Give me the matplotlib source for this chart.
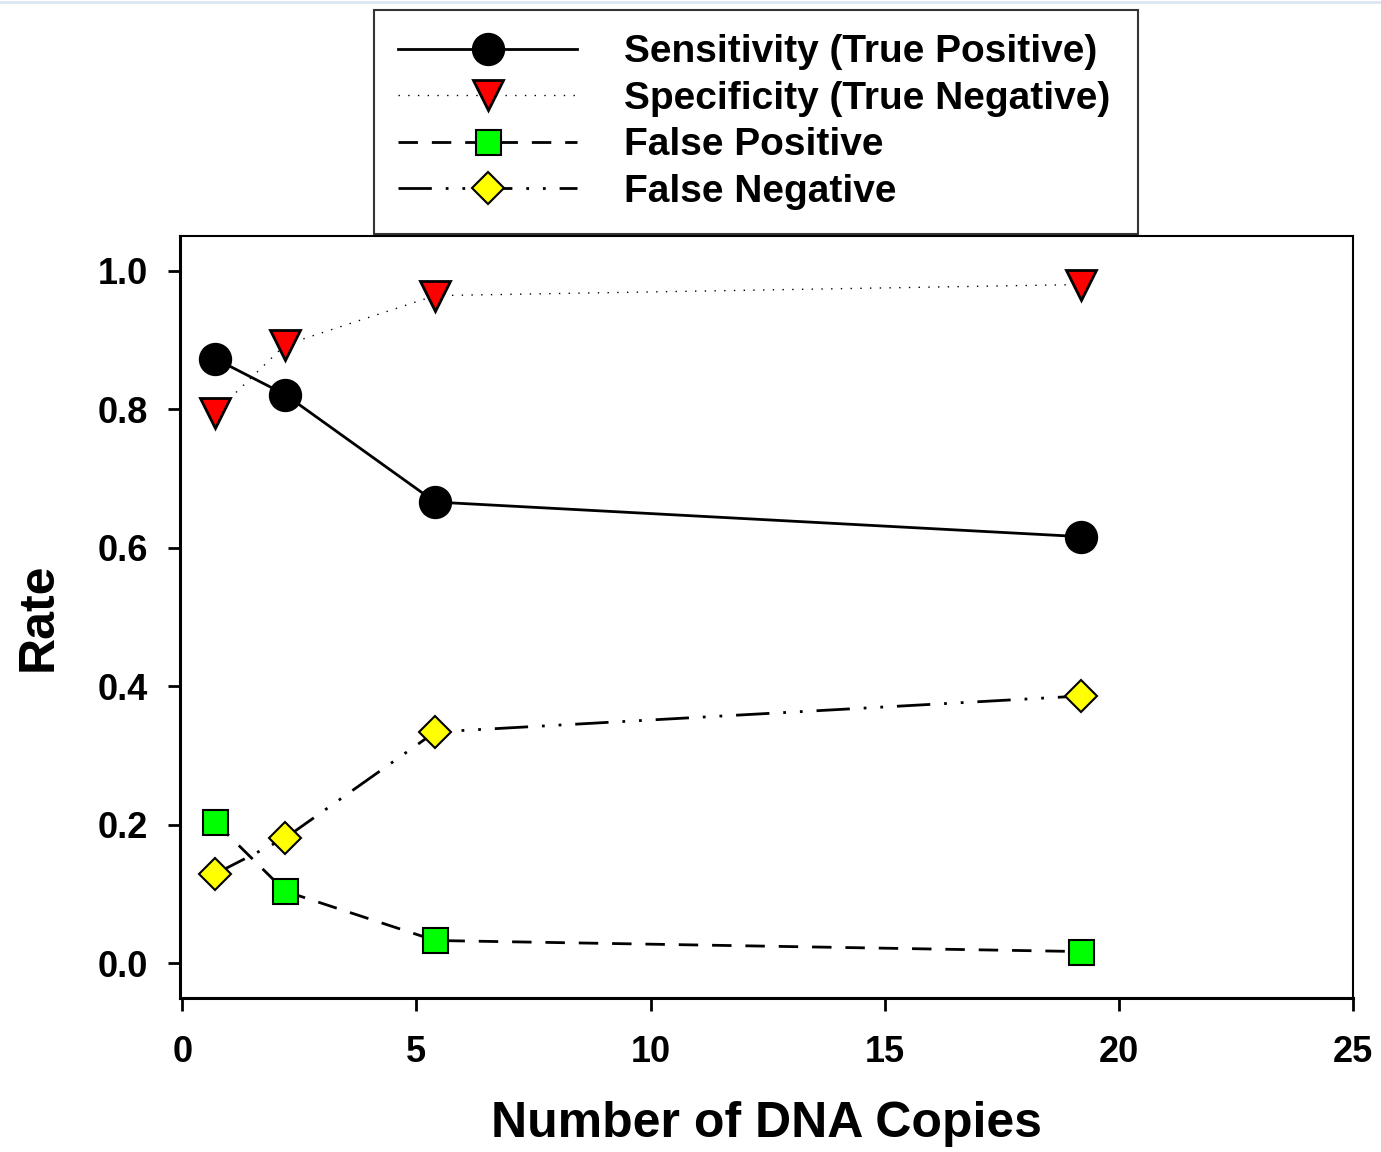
import matplotlib
matplotlib.use("Agg")
import matplotlib.pyplot as plt
from matplotlib.lines import Line2D

# values
copies = [0.7, 2.2, 5.4, 19.2]
sensitivity = [0.873, 0.821, 0.666, 0.616]
specificity = [0.795, 0.893, 0.964, 0.980]
false_pos = [0.204, 0.104, 0.033, 0.017]
false_neg = [0.129, 0.181, 0.334, 0.386]

labels = ["Sensitivity (True Positive)", "Specificity (True Negative)",
          "False Positive", "False Negative"]

plt.rcParams['font.family'] = ['Liberation Sans', 'DejaVu Sans']
plt.rcParams['font.weight'] = 'bold'

fig = plt.figure(figsize=(13.81, 11.52), dpi=100)
ax = fig.add_axes([0.1303, 0.1337, 0.8494, 0.6614])

ax.plot(copies, sensitivity, color='black', lw=2, ls='-',
        marker='o', ms=23, mfc='black', mec='black', label=labels[0], zorder=3)
ax.plot(copies, specificity, color='black', lw=1, ls=(0, (1, 6)),
        marker='v', ms=22, mfc='red', mec='black', mew=2, label=labels[1], zorder=3)
ax.plot(copies, false_pos, color='black', lw=2, ls=(0, (7, 5)),
        marker='s', ms=18, mfc='#00ff00', mec='black', mew=1.5, label=labels[2], zorder=3)
ax.plot(copies, false_neg, color='black', lw=2, ls=(0, (12, 5, 1, 5, 1, 5)),
        marker='D', ms=16, mfc='yellow', mec='black', mew=1.5, label=labels[3], zorder=3)

ax.set_xlim(-0.05, 25)
ax.set_ylim(-0.05, 1.05)
ax.set_xticks([0, 5, 10, 15, 20, 25])
ax.set_yticks([0.0, 0.2, 0.4, 0.6, 0.8, 1.0])
ax.set_yticklabels(["0.0", "0.2", "0.4", "0.6", "0.8", "1.0"])
ax.tick_params(axis='both', direction='out', length=9, width=2, labelsize=26)
ax.tick_params(axis='y', pad=14)
ax.tick_params(axis='x', pad=18)
for sp in ax.spines.values():
    sp.set_linewidth(1.5)
for sp in ['left', 'bottom']:
    ax.spines[sp].set_linewidth(2.2)

ax.set_xlabel("Number of DNA Copies", fontsize=36, fontweight='bold', labelpad=22)
ax.set_ylabel("Rate", fontsize=36, fontweight='bold', labelpad=26)

leg = fig.legend(loc='upper left', bbox_to_anchor=(0.2708, 0.7977, 0.5532, 0.1936),
                 mode='expand', fontsize=28, frameon=True, fancybox=False,
                 edgecolor='black', handlelength=4.6, handletextpad=1.2,
                 labelspacing=0.27, borderpad=0.62, borderaxespad=0)
leg.get_frame().set_linewidth(1.5)

# faint top border of the original image
fig.add_artist(Line2D([0, 1], [0.9985, 0.9985], color='#dde6f0', lw=2))

fig.savefig("out.png", dpi=100)
